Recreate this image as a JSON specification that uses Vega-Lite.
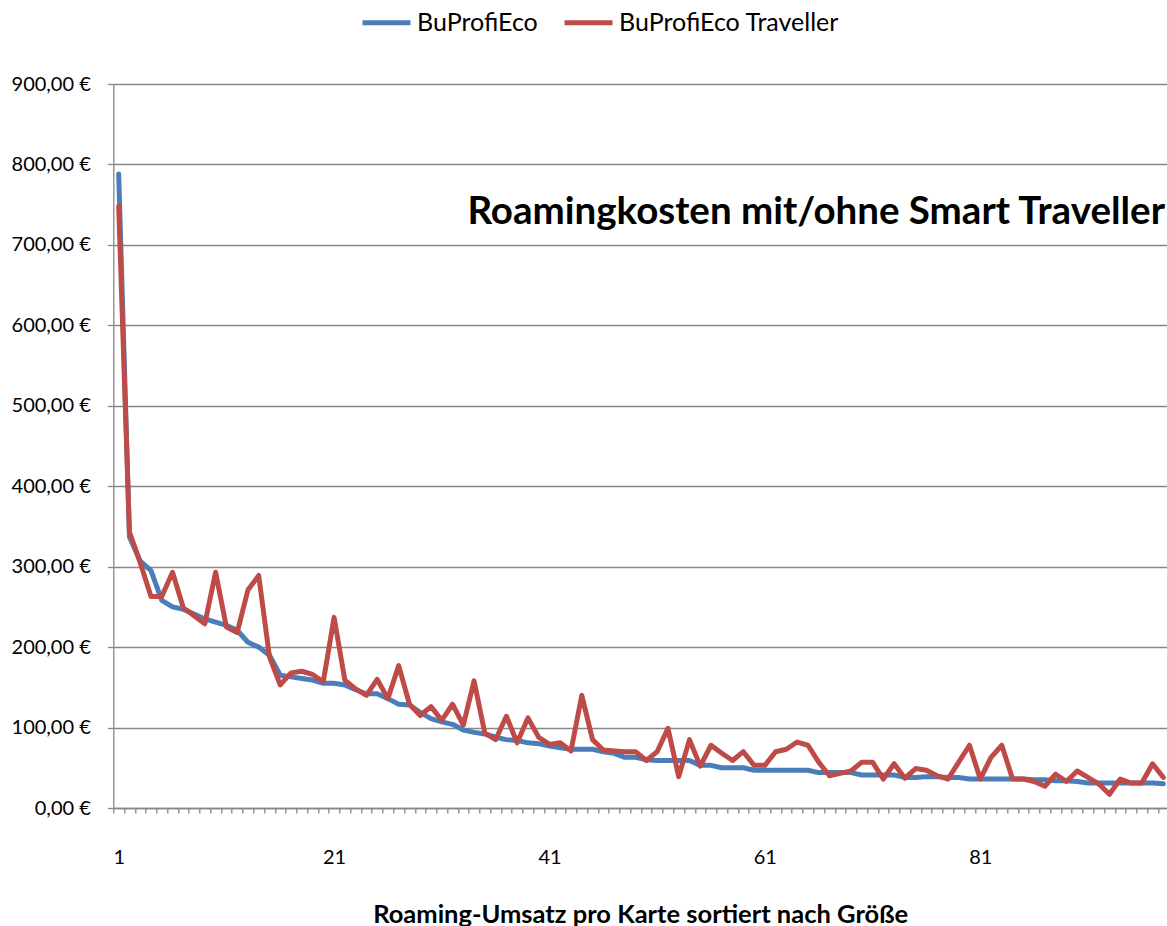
{
  "$schema": "https://vega.github.io/schema/vega-lite/v6.json",
  "autosize": {"type": "none"},
  "padding": {"left": 113.3, "top": 84, "right": 0, "bottom": 118},
  "width": 1053.7,
  "height": 724,
  "background": "white",
  "title": {
    "text": "Roamingkosten mit/ohne Smart Traveller",
    "anchor": "end",
    "orient": "top",
    "frame": "group",
    "font": "Lato",
    "fontSize": 38.5,
    "fontWeight": "bold",
    "color": "#000000",
    "baseline": "middle",
    "offset": -254,
    "dx": -2
  },
  "data": {
    "values": [
      {"n":1,"s":"BuProfiEco","v":788},{"n":1,"s":"BuProfiEco Traveller","v":748},
      {"n":2,"s":"BuProfiEco","v":337},{"n":2,"s":"BuProfiEco Traveller","v":343},
      {"n":3,"s":"BuProfiEco","v":307},{"n":3,"s":"BuProfiEco Traveller","v":305},
      {"n":4,"s":"BuProfiEco","v":295},{"n":4,"s":"BuProfiEco Traveller","v":263},
      {"n":5,"s":"BuProfiEco","v":258},{"n":5,"s":"BuProfiEco Traveller","v":263},
      {"n":6,"s":"BuProfiEco","v":250},{"n":6,"s":"BuProfiEco Traveller","v":293},
      {"n":7,"s":"BuProfiEco","v":247},{"n":7,"s":"BuProfiEco Traveller","v":249},
      {"n":8,"s":"BuProfiEco","v":241},{"n":8,"s":"BuProfiEco Traveller","v":239},
      {"n":9,"s":"BuProfiEco","v":235},{"n":9,"s":"BuProfiEco Traveller","v":229},
      {"n":10,"s":"BuProfiEco","v":231},{"n":10,"s":"BuProfiEco Traveller","v":293},
      {"n":11,"s":"BuProfiEco","v":227},{"n":11,"s":"BuProfiEco Traveller","v":225},
      {"n":12,"s":"BuProfiEco","v":221},{"n":12,"s":"BuProfiEco Traveller","v":218},
      {"n":13,"s":"BuProfiEco","v":206},{"n":13,"s":"BuProfiEco Traveller","v":271},
      {"n":14,"s":"BuProfiEco","v":200},{"n":14,"s":"BuProfiEco Traveller","v":289},
      {"n":15,"s":"BuProfiEco","v":190},{"n":15,"s":"BuProfiEco Traveller","v":188},
      {"n":16,"s":"BuProfiEco","v":165},{"n":16,"s":"BuProfiEco Traveller","v":153},
      {"n":17,"s":"BuProfiEco","v":163},{"n":17,"s":"BuProfiEco Traveller","v":168},
      {"n":18,"s":"BuProfiEco","v":161},{"n":18,"s":"BuProfiEco Traveller","v":170},
      {"n":19,"s":"BuProfiEco","v":159},{"n":19,"s":"BuProfiEco Traveller","v":166},
      {"n":20,"s":"BuProfiEco","v":155},{"n":20,"s":"BuProfiEco Traveller","v":157},
      {"n":21,"s":"BuProfiEco","v":155},{"n":21,"s":"BuProfiEco Traveller","v":237},
      {"n":22,"s":"BuProfiEco","v":153},{"n":22,"s":"BuProfiEco Traveller","v":159},
      {"n":23,"s":"BuProfiEco","v":147},{"n":23,"s":"BuProfiEco Traveller","v":148},
      {"n":24,"s":"BuProfiEco","v":142},{"n":24,"s":"BuProfiEco Traveller","v":140},
      {"n":25,"s":"BuProfiEco","v":142},{"n":25,"s":"BuProfiEco Traveller","v":160},
      {"n":26,"s":"BuProfiEco","v":136},{"n":26,"s":"BuProfiEco Traveller","v":136},
      {"n":27,"s":"BuProfiEco","v":129},{"n":27,"s":"BuProfiEco Traveller","v":177},
      {"n":28,"s":"BuProfiEco","v":128},{"n":28,"s":"BuProfiEco Traveller","v":129},
      {"n":29,"s":"BuProfiEco","v":119},{"n":29,"s":"BuProfiEco Traveller","v":115},
      {"n":30,"s":"BuProfiEco","v":111},{"n":30,"s":"BuProfiEco Traveller","v":126},
      {"n":31,"s":"BuProfiEco","v":107},{"n":31,"s":"BuProfiEco Traveller","v":109},
      {"n":32,"s":"BuProfiEco","v":104},{"n":32,"s":"BuProfiEco Traveller","v":129},
      {"n":33,"s":"BuProfiEco","v":97},{"n":33,"s":"BuProfiEco Traveller","v":103},
      {"n":34,"s":"BuProfiEco","v":94},{"n":34,"s":"BuProfiEco Traveller","v":158},
      {"n":35,"s":"BuProfiEco","v":92},{"n":35,"s":"BuProfiEco Traveller","v":93},
      {"n":36,"s":"BuProfiEco","v":88},{"n":36,"s":"BuProfiEco Traveller","v":85},
      {"n":37,"s":"BuProfiEco","v":85},{"n":37,"s":"BuProfiEco Traveller","v":114},
      {"n":38,"s":"BuProfiEco","v":84},{"n":38,"s":"BuProfiEco Traveller","v":81},
      {"n":39,"s":"BuProfiEco","v":81},{"n":39,"s":"BuProfiEco Traveller","v":112},
      {"n":40,"s":"BuProfiEco","v":80},{"n":40,"s":"BuProfiEco Traveller","v":88},
      {"n":41,"s":"BuProfiEco","v":77},{"n":41,"s":"BuProfiEco Traveller","v":79},
      {"n":42,"s":"BuProfiEco","v":75},{"n":42,"s":"BuProfiEco Traveller","v":81},
      {"n":43,"s":"BuProfiEco","v":73},{"n":43,"s":"BuProfiEco Traveller","v":71},
      {"n":44,"s":"BuProfiEco","v":73},{"n":44,"s":"BuProfiEco Traveller","v":140},
      {"n":45,"s":"BuProfiEco","v":73},{"n":45,"s":"BuProfiEco Traveller","v":85},
      {"n":46,"s":"BuProfiEco","v":70},{"n":46,"s":"BuProfiEco Traveller","v":72},
      {"n":47,"s":"BuProfiEco","v":68},{"n":47,"s":"BuProfiEco Traveller","v":71},
      {"n":48,"s":"BuProfiEco","v":63},{"n":48,"s":"BuProfiEco Traveller","v":70},
      {"n":49,"s":"BuProfiEco","v":63},{"n":49,"s":"BuProfiEco Traveller","v":70},
      {"n":50,"s":"BuProfiEco","v":60},{"n":50,"s":"BuProfiEco Traveller","v":59},
      {"n":51,"s":"BuProfiEco","v":59},{"n":51,"s":"BuProfiEco Traveller","v":70},
      {"n":52,"s":"BuProfiEco","v":59},{"n":52,"s":"BuProfiEco Traveller","v":99},
      {"n":53,"s":"BuProfiEco","v":59},{"n":53,"s":"BuProfiEco Traveller","v":39},
      {"n":54,"s":"BuProfiEco","v":59},{"n":54,"s":"BuProfiEco Traveller","v":85},
      {"n":55,"s":"BuProfiEco","v":53},{"n":55,"s":"BuProfiEco Traveller","v":52},
      {"n":56,"s":"BuProfiEco","v":53},{"n":56,"s":"BuProfiEco Traveller","v":78},
      {"n":57,"s":"BuProfiEco","v":50},{"n":57,"s":"BuProfiEco Traveller","v":68},
      {"n":58,"s":"BuProfiEco","v":50},{"n":58,"s":"BuProfiEco Traveller","v":59},
      {"n":59,"s":"BuProfiEco","v":50},{"n":59,"s":"BuProfiEco Traveller","v":70},
      {"n":60,"s":"BuProfiEco","v":47},{"n":60,"s":"BuProfiEco Traveller","v":53},
      {"n":61,"s":"BuProfiEco","v":47},{"n":61,"s":"BuProfiEco Traveller","v":53},
      {"n":62,"s":"BuProfiEco","v":47},{"n":62,"s":"BuProfiEco Traveller","v":70},
      {"n":63,"s":"BuProfiEco","v":47},{"n":63,"s":"BuProfiEco Traveller","v":73},
      {"n":64,"s":"BuProfiEco","v":47},{"n":64,"s":"BuProfiEco Traveller","v":82},
      {"n":65,"s":"BuProfiEco","v":47},{"n":65,"s":"BuProfiEco Traveller","v":78},
      {"n":66,"s":"BuProfiEco","v":44},{"n":66,"s":"BuProfiEco Traveller","v":57},
      {"n":67,"s":"BuProfiEco","v":44},{"n":67,"s":"BuProfiEco Traveller","v":40},
      {"n":68,"s":"BuProfiEco","v":44},{"n":68,"s":"BuProfiEco Traveller","v":43},
      {"n":69,"s":"BuProfiEco","v":44},{"n":69,"s":"BuProfiEco Traveller","v":46},
      {"n":70,"s":"BuProfiEco","v":41},{"n":70,"s":"BuProfiEco Traveller","v":57},
      {"n":71,"s":"BuProfiEco","v":41},{"n":71,"s":"BuProfiEco Traveller","v":57},
      {"n":72,"s":"BuProfiEco","v":41},{"n":72,"s":"BuProfiEco Traveller","v":36},
      {"n":73,"s":"BuProfiEco","v":41},{"n":73,"s":"BuProfiEco Traveller","v":55},
      {"n":74,"s":"BuProfiEco","v":38},{"n":74,"s":"BuProfiEco Traveller","v":37},
      {"n":75,"s":"BuProfiEco","v":38},{"n":75,"s":"BuProfiEco Traveller","v":49},
      {"n":76,"s":"BuProfiEco","v":39},{"n":76,"s":"BuProfiEco Traveller","v":47},
      {"n":77,"s":"BuProfiEco","v":39},{"n":77,"s":"BuProfiEco Traveller","v":40},
      {"n":78,"s":"BuProfiEco","v":38},{"n":78,"s":"BuProfiEco Traveller","v":36},
      {"n":79,"s":"BuProfiEco","v":38},{"n":79,"s":"BuProfiEco Traveller","v":57},
      {"n":80,"s":"BuProfiEco","v":36},{"n":80,"s":"BuProfiEco Traveller","v":78},
      {"n":81,"s":"BuProfiEco","v":36},{"n":81,"s":"BuProfiEco Traveller","v":36},
      {"n":82,"s":"BuProfiEco","v":36},{"n":82,"s":"BuProfiEco Traveller","v":63},
      {"n":83,"s":"BuProfiEco","v":36},{"n":83,"s":"BuProfiEco Traveller","v":78},
      {"n":84,"s":"BuProfiEco","v":36},{"n":84,"s":"BuProfiEco Traveller","v":36},
      {"n":85,"s":"BuProfiEco","v":36},{"n":85,"s":"BuProfiEco Traveller","v":36},
      {"n":86,"s":"BuProfiEco","v":35},{"n":86,"s":"BuProfiEco Traveller","v":33},
      {"n":87,"s":"BuProfiEco","v":35},{"n":87,"s":"BuProfiEco Traveller","v":27},
      {"n":88,"s":"BuProfiEco","v":34},{"n":88,"s":"BuProfiEco Traveller","v":42},
      {"n":89,"s":"BuProfiEco","v":34},{"n":89,"s":"BuProfiEco Traveller","v":33},
      {"n":90,"s":"BuProfiEco","v":33},{"n":90,"s":"BuProfiEco Traveller","v":46},
      {"n":91,"s":"BuProfiEco","v":31},{"n":91,"s":"BuProfiEco Traveller","v":38},
      {"n":92,"s":"BuProfiEco","v":31},{"n":92,"s":"BuProfiEco Traveller","v":30},
      {"n":93,"s":"BuProfiEco","v":31},{"n":93,"s":"BuProfiEco Traveller","v":17},
      {"n":94,"s":"BuProfiEco","v":31},{"n":94,"s":"BuProfiEco Traveller","v":36},
      {"n":95,"s":"BuProfiEco","v":31},{"n":95,"s":"BuProfiEco Traveller","v":31},
      {"n":96,"s":"BuProfiEco","v":31},{"n":96,"s":"BuProfiEco Traveller","v":31},
      {"n":97,"s":"BuProfiEco","v":31},{"n":97,"s":"BuProfiEco Traveller","v":55},
      {"n":98,"s":"BuProfiEco","v":30},{"n":98,"s":"BuProfiEco Traveller","v":38}
    ]
  },
  "mark": {"type": "line", "strokeWidth": 5, "strokeJoin": "round", "strokeCap": "round", "clip": true},
  "encoding": {
    "x": {
      "field": "n",
      "type": "quantitative",
      "scale": {"domain": [0.5, 98.34], "nice": false, "zero": false},
      "axis": {
        "title": "Roaming-Umsatz pro Karte sortiert nach Größe",
        "titleFont": "Lato",
        "titleFontSize": 25.5,
        "titleFontWeight": "bold",
        "titleColor": "#000000",
        "titlePadding": 35,
        "values": [1,2,3,4,5,6,7,8,9,10,11,12,13,14,15,16,17,18,19,20,21,22,23,24,25,26,27,28,29,30,31,32,33,34,35,36,37,38,39,40,41,42,43,44,45,46,47,48,49,50,51,52,53,54,55,56,57,58,59,60,61,62,63,64,65,66,67,68,69,70,71,72,73,74,75,76,77,78,79,80,81,82,83,84,85,86,87,88,89,90,91,92,93,94,95,96,97,98],
        "tickOffset": -5.385,
        "labelOffset": 5.385,
        "labelExpr": "(datum.value - 1) % 20 === 0 ? datum.value : ''",
        "labelOverlap": false,
        "labelFlush": false,
        "labelFont": "Lato",
        "labelFontSize": 20,
        "labelColor": "#000000",
        "labelPadding": 34,
        "tickSize": 5,
        "tickColor": "#878787",
        "tickWidth": 1.3,
        "domainColor": "#878787",
        "domainWidth": 1.3,
        "grid": false
      }
    },
    "y": {
      "field": "v",
      "type": "quantitative",
      "scale": {"domain": [0, 900], "nice": false},
      "axis": {
        "title": null,
        "values": [0,100,200,300,400,500,600,700,800,900],
        "labelExpr": "replace(format(datum.value, '.2f'), '.', ',') + ' €'",
        "labelFont": "Lato",
        "labelFontSize": 20,
        "labelColor": "#000000",
        "labelPadding": 17,
        "tickSize": 6,
        "tickColor": "#878787",
        "tickWidth": 1.3,
        "domainColor": "#878787",
        "domainWidth": 1.3,
        "grid": true,
        "gridColor": "#878787",
        "gridWidth": 1.3
      }
    },
    "color": {
      "field": "s",
      "type": "nominal",
      "scale": {"domain": ["BuProfiEco", "BuProfiEco Traveller"], "range": ["#4A7EBB", "#BE4B48"]},
      "legend": {
        "title": null,
        "orient": "none",
        "direction": "horizontal",
        "legendX": 246.7,
        "legendY": -88,
        "symbolType": "stroke",
        "symbolSize": 2304,
        "symbolStrokeWidth": 5,
        "labelFont": "Lato",
        "labelFontSize": 25,
        "labelColor": "#000000",
        "labelOffset": 4,
        "columnPadding": 16,
        "labelLimit": 400
      }
    }
  },
  "config": {
    "view": {"stroke": null}
  }
}
